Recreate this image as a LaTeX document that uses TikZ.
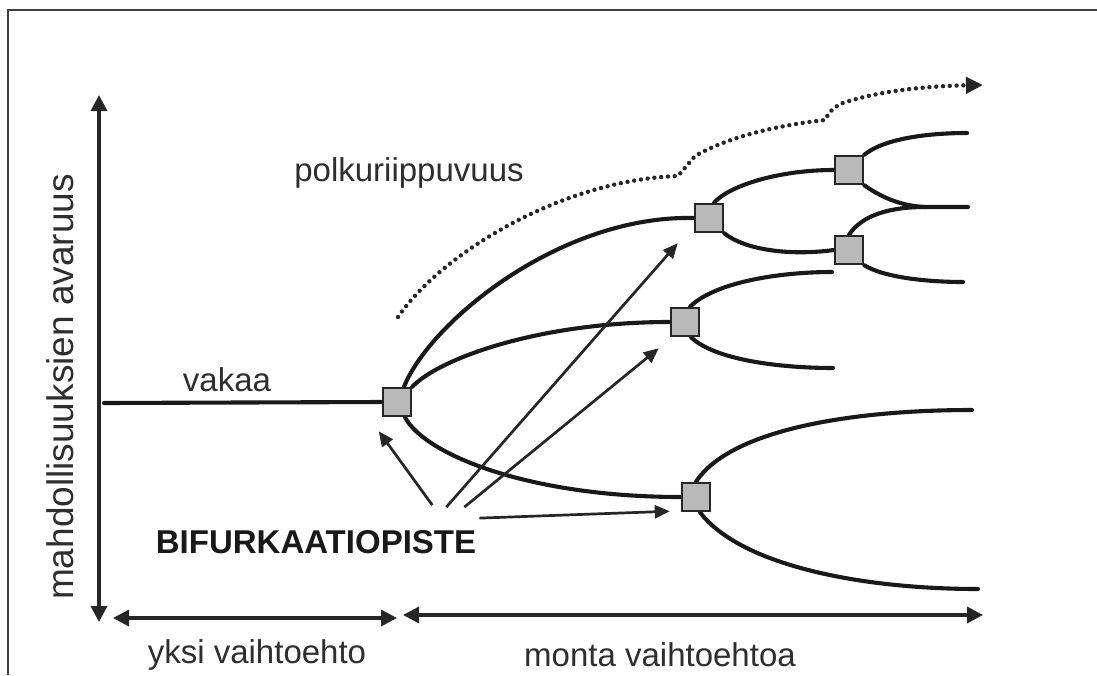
\documentclass[tikz,border=0pt]{standalone}
\usepackage{fontspec}
\setmainfont{Liberation Sans}
\usetikzlibrary{arrows.meta,calc,backgrounds}
\begin{document}
\begin{tikzpicture}[x=1pt,y=-1pt,
  bsq/.style={draw=black!85, fill=gray!55, line width=2.5pt, minimum size=28pt, inner sep=0pt},
  branch/.style={line width=4.1pt, draw=black!90, line cap=round},
  axisline/.style={line width=3.4pt, draw=black!85, {Triangle[length=16pt,width=16pt]}-{Triangle[length=16pt,width=16pt]}},
  ptr/.style={line width=2.7pt, draw=black!85, -{Triangle[length=15pt,width=13pt]}},
  dotline/.style={line width=4.4pt, draw=black!85, line cap=round, dash pattern=on 0pt off 6.8pt, -{Triangle[length=17pt,width=16pt]}},
  lbl/.style={text=black!82, font=\fontsize{33}{40}\selectfont, inner sep=0pt},
  frameline/.style={line width=1.6pt, draw=black!75}]
\useasboundingbox (0,0) rectangle (1097,675);
% frame
\coordinate (fa) at (8,675);
\coordinate (fb) at (8,10);
\coordinate (fc) at (1097,10);
\draw[frameline] (fa) -- (fb) -- (fc);

% bifurcation points
\node[bsq] (B1) at (397,402) {};
\node[bsq] (B2) at (685,322) {};
\node[bsq] (B3) at (709,218) {};
\node[bsq] (B4) at (849,250) {};
\node[bsq] (B5) at (849,170) {};
\node[bsq] (B6) at (696,497) {};

% free ends
\coordinate (s0) at (104,403);
\coordinate (e1) at (967,133);
\coordinate (cusp) at (925,207);
\coordinate (e2) at (968,207);
\coordinate (e3) at (963,282);
\coordinate (e4) at (832,272);
\coordinate (e5) at (833,368);
\coordinate (e6) at (972,410);
\coordinate (e7) at (978,589);

\begin{scope}[on background layer]
\draw[branch] (s0) -- (B1.west);
\draw[branch] ($(B1.north)+(7,0)$) .. controls (430,322) and (560,215) .. (B3.west);
\draw[branch] (B1.north east) .. controls (440,358) and (540,322) .. (B2.west);
\draw[branch] ($(B1.south)+(8,0)$) .. controls (425,455) and (530,497) .. (B6.west);
\draw[branch] ($(B3.north)+(5,0)$) .. controls (730,185) and (780,170) .. (B5.west);
\draw[branch] (B3.south east) .. controls (745,250) and (790,256) .. (B4.west);
\draw[branch] (B5.north east) .. controls (885,138) and (930,133) .. (e1);
\draw[branch] (B5.south east) .. controls (885,200) and (905,206) .. (cusp) -- (e2);
\draw[branch] (B4.north) .. controls (862,215) and (890,207) .. (cusp);
\draw[branch] (B4.south east) .. controls (885,278) and (930,282) .. (e3);
\draw[branch] ($(B2.north)+(5,0)$) .. controls (715,282) and (780,272) .. (e4);
\draw[branch] ($(B2.south)+(6,0)$) .. controls (715,360) and (780,368) .. (e5);
\draw[branch] (B6.north) .. controls (730,430) and (850,410) .. (e6);
\draw[branch] ($(B6.south)+(4,0)$) .. controls (740,565) and (860,589) .. (e7);
\end{scope}

% labels
\node[lbl] (pol) at (409,173) {polkuriippuvuus};
\node[lbl] (vak) at (227,380) {vakaa};
\node[lbl, font=\fontsize{33}{40}\selectfont\bfseries, text=black!90] (bif) at (316,542) {BIFURKAATIOPISTE};
\node[lbl] (yksi) at (257,655) {yksi vaihtoehto};
\node[lbl] (monta) at (660,655) {monta vaihtoehtoa};
\node[lbl, font=\fontsize{37}{44}\selectfont, rotate=90] (mahd) at (60,387) {mahdollisuuksien avaruus};

% pointers from BIFURKAATIOPISTE
\coordinate (p1) at ($(bif.north east)+(-44,-25)$);
\coordinate (p2) at ($(bif.north east)+(-30,-23)$);
\coordinate (p3) at ($(bif.north east)+(-12,-23)$);
\coordinate (p4) at ($(bif.north east)+(3,-12)$);
\coordinate (t1) at ($(B1.south west)+(-3,14)$);
\coordinate (t2) at ($(B3.south west)+(-16,10)$);
\coordinate (t3) at ($(B2.south west)+(-11,11)$);
\coordinate (t4) at ($(B6.south west)+(-11,-1)$);
\draw[ptr] (p1) -- (t1);
\draw[ptr] (p2) -- (t2);
\draw[ptr] (p3) -- (t3);
\draw[ptr] (p4) -- (t4);

% path dependence dotted arrow
\coordinate (d0) at (398,317);
\coordinate (d1) at (983,85);
\draw[dotline] (d0) .. controls (440,255) and (560,180) .. (678,176)
  .. controls (686,166) .. (695,156)
  .. controls (730,136) and (780,125) .. (825,120)
  .. controls (830,111) .. (840,104)
  .. controls (880,90) and (930,86) .. (d1);

% axes
\coordinate (ay0) at (99,95);
\coordinate (ay1) at (99,622);
\coordinate (ax0) at (113,618);
\coordinate (ax1) at (397,618);
\coordinate (ax2) at (403,615);
\coordinate (ax3) at (983,615);
\draw[axisline] (ay1) -- (ay0);
\draw[axisline] (ax0) -- (ax1);
\draw[axisline] (ax2) -- (ax3);
\end{tikzpicture}
\end{document}
